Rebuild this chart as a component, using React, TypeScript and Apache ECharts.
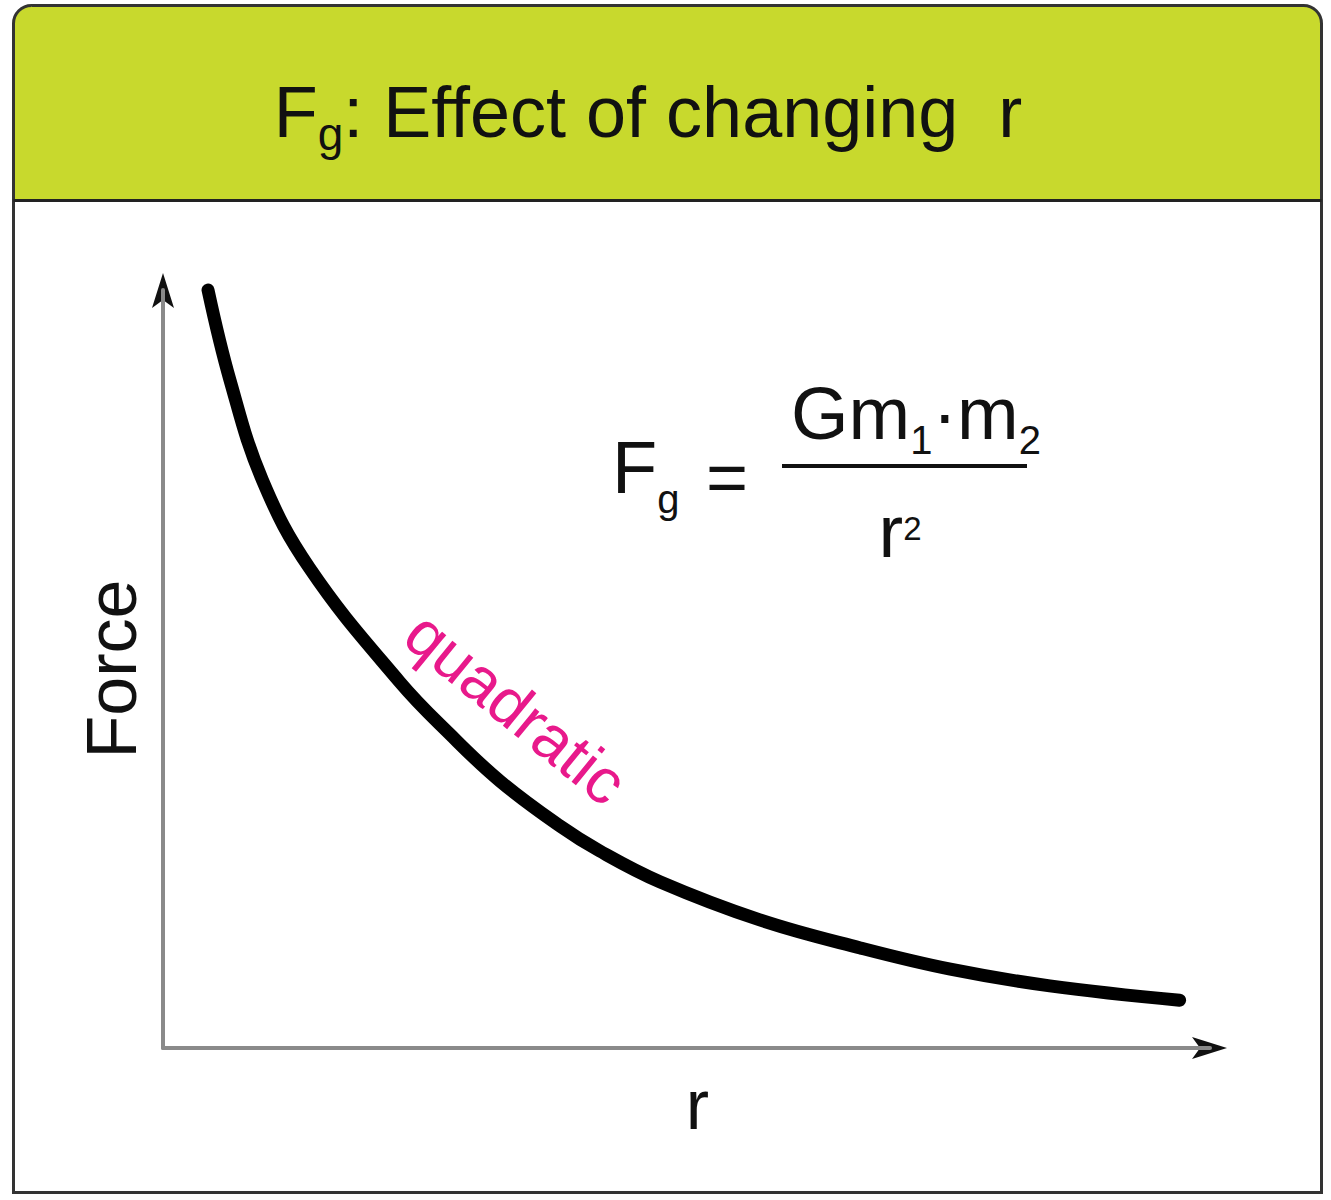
import React, { useEffect, useRef } from "react";
import * as echarts from "echarts";

// Curve: r (0..10 along the axis) and Force (0..10 up the axis)
const rValues = [0.43, 0.64, 0.95, 1.4, 2.26, 2.74, 3.22, 3.79, 4.17, 4.75, 5.7, 6.66, 7.52, 8.47, 9.71];
const forceValues = [10.0, 8.81, 7.49, 6.33, 4.83, 4.14, 3.52, 2.93, 2.6, 2.19, 1.69, 1.32, 1.04, 0.82, 0.63];

const axisRange = [0, 10];
const xAxisName = "r";
const yAxisName = "Force";
const curveLabel = "quadratic";
const titleParts = ["F", "g", ": Effect of changing  r"];
const formulaLeft = ["F", "g"];
const formulaEq = "=";
const numeratorParts = ["Gm", "1", "\u00b7m", "2"];
const denominatorParts = ["r", "2"];

const FONT = '"Liberation Sans", Arial, Helvetica, sans-serif';
const INK = "#111";

export default function App() {
  const ref = useRef<HTMLDivElement>(null);

  useEffect(() => {
    document.body.style.margin = "0";
    if (!ref.current) return;
    const chart = echarts.init(ref.current, undefined, { renderer: "svg" });

    chart.setOption({
      animation: false,
      backgroundColor: "#ffffff",
      grid: { left: 163, top: 290, right: 121, bottom: 152 },
      xAxis: {
        type: "value",
        min: axisRange[0],
        max: axisRange[1],
        axisLine: { show: true, lineStyle: { color: "#8a8a8a", width: 4 } },
        axisTick: { show: false },
        axisLabel: { show: false },
        splitLine: { show: false },
        name: xAxisName,
        nameLocation: "middle",
        nameGap: 22,
        nameTextStyle: { fontSize: 70, color: INK, fontFamily: FONT, padding: [0, 0, 0, 22] },
      },
      yAxis: {
        type: "value",
        min: axisRange[0],
        max: axisRange[1],
        axisLine: { show: true, lineStyle: { color: "#8a8a8a", width: 4 } },
        axisTick: { show: false },
        axisLabel: { show: false },
        splitLine: { show: false },
        name: yAxisName,
        nameLocation: "middle",
        nameRotate: 90,
        nameGap: 16,
        nameTextStyle: { fontSize: 70, color: INK, fontFamily: FONT },
      },
      series: [
        {
          type: "line",
          data: rValues.map((r, i) => [r, forceValues[i]]),
          smooth: 0.4,
          symbol: "none",
          showSymbol: false,
          clip: false,
          lineStyle: { color: "#000", width: 13, cap: "round", join: "round" },
        },
      ],
    });

    const yEnd = chart.convertToPixel({ gridIndex: 0 }, [axisRange[0], axisRange[1]]) as number[];
    const xEnd = chart.convertToPixel({ gridIndex: 0 }, [axisRange[1], axisRange[0]]) as number[];

    const graphic: any[] = [
      {
        type: "rect",
        silent: true,
        shape: { x: 13.5, y: 5.5, width: 1308, height: 195, r: [18, 18, 0, 0] },
        style: { fill: "#c8d92d" },
      },
      {
        type: "rect",
        silent: true,
        shape: { x: 13.5, y: 5.5, width: 1308, height: 1187, r: [18, 18, 0, 0] },
        style: { fill: "none", stroke: "#333", lineWidth: 3 },
      },
      {
        type: "line",
        silent: true,
        shape: { x1: 13.5, y1: 200.5, x2: 1321.5, y2: 200.5 },
        style: { stroke: "#222", lineWidth: 3 },
      },
      {
        type: "text",
        x: 648,
        y: 112,
        style: {
          text: `{F|${titleParts[0]}}{g|${titleParts[1]}}{t|${titleParts[2]}}`,
          align: "center",
          verticalAlign: "middle",
          fontFamily: FONT,
          fill: INK,
          rich: {
            F: { fontSize: 72, fontFamily: FONT, fill: INK, verticalAlign: "middle" },
            g: { fontSize: 46, fontFamily: FONT, fill: INK, verticalAlign: "middle", padding: [44, 0, 0, 0] },
            t: { fontSize: 72, fontFamily: FONT, fill: INK, verticalAlign: "middle" },
          },
        },
      },
      {
        type: "text",
        x: 612,
        y: 467,
        style: {
          text: `{F|${formulaLeft[0]}}{g|${formulaLeft[1]}}`,
          align: "left",
          verticalAlign: "middle",
          fontFamily: FONT,
          fill: INK,
          rich: {
            F: { fontSize: 74, fontFamily: FONT, fill: INK, verticalAlign: "middle" },
            g: { fontSize: 40, fontFamily: FONT, fill: INK, verticalAlign: "middle", padding: [64, 0, 0, 0] },
          },
        },
      },
      {
        type: "text",
        x: 727,
        y: 477,
        style: { text: formulaEq, align: "center", verticalAlign: "middle", fontSize: 72, fontFamily: FONT, fill: INK },
      },
      {
        type: "text",
        x: 916,
        y: 413,
        style: {
          text: `{m|${numeratorParts[0]}}{s|${numeratorParts[1]}}{m|${numeratorParts[2]}}{s|${numeratorParts[3]}}`,
          align: "center",
          verticalAlign: "middle",
          fontFamily: FONT,
          fill: INK,
          rich: {
            m: { fontSize: 74, fontFamily: FONT, fill: INK, verticalAlign: "middle" },
            s: { fontSize: 40, fontFamily: FONT, fill: INK, verticalAlign: "middle", padding: [54, 0, 0, 0] },
          },
        },
      },
      {
        type: "line",
        silent: true,
        shape: { x1: 782, y1: 466, x2: 1027, y2: 466 },
        style: { stroke: INK, lineWidth: 4 },
      },
      {
        type: "text",
        x: 900,
        y: 531,
        style: {
          text: `{r|${denominatorParts[0]}}{p|${denominatorParts[1]}}`,
          align: "center",
          verticalAlign: "middle",
          fontFamily: FONT,
          fill: INK,
          rich: {
            r: { fontSize: 74, fontFamily: FONT, fill: INK, verticalAlign: "middle" },
            p: { fontSize: 33, fontFamily: FONT, fill: INK, verticalAlign: "middle", padding: [0, 0, 6, 0] },
          },
        },
      },
      {
        type: "text",
        x: 516,
        y: 708,
        rotation: -0.686,
        style: {
          text: curveLabel,
          align: "center",
          verticalAlign: "middle",
          fontSize: 64,
          fontFamily: FONT,
          fill: "#e8198b",
        },
      },
      {
        type: "polygon",
        silent: true,
        shape: {
          points: [
            [yEnd[0], yEnd[1] - 17],
            [yEnd[0] + 11, yEnd[1] + 18],
            [yEnd[0], yEnd[1] + 10],
            [yEnd[0] - 11, yEnd[1] + 18],
          ],
        },
        style: { fill: "#111" },
      },
      {
        type: "polygon",
        silent: true,
        shape: {
          points: [
            [xEnd[0] + 17, xEnd[1]],
            [xEnd[0] - 18, xEnd[1] - 11],
            [xEnd[0] - 10, xEnd[1]],
            [xEnd[0] - 18, xEnd[1] + 11],
          ],
        },
        style: { fill: "#111" },
      },
    ];

    chart.setOption({ graphic });

    return () => {
      chart.dispose();
    };
  }, []);

  return <div ref={ref} style={{ width: 1331, height: 1200, background: "#fff" }} />;
}
